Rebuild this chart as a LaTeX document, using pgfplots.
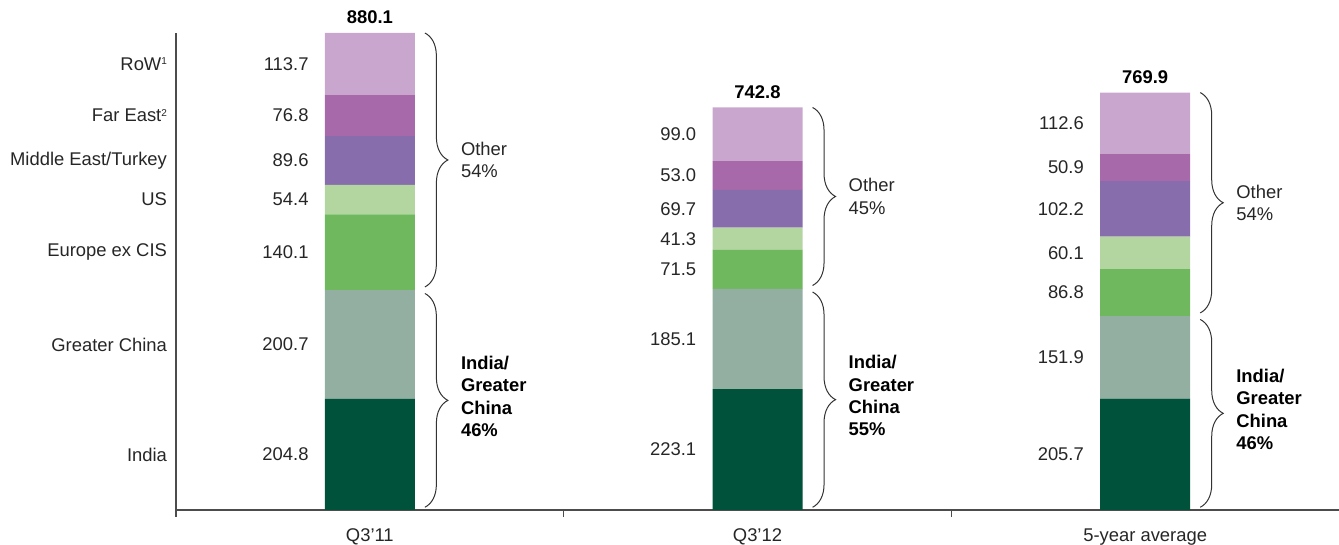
\documentclass[border=0pt]{standalone}
\usepackage{fontspec}
\setmainfont{Liberation Sans}
\usepackage{pgfplots}
\usepackage{pgfplotstable}
\pgfplotsset{compat=1.18}
\usetikzlibrary{decorations.pathreplacing}

\definecolor{cIndia}{HTML}{00523A}
\definecolor{cChina}{HTML}{93AFA2}
\definecolor{cEurope}{HTML}{6FB85D}
\definecolor{cUS}{HTML}{B3D6A1}
\definecolor{cMidEast}{HTML}{886DAC}
\definecolor{cFarEast}{HTML}{A869AA}
\definecolor{cRoW}{HTML}{C9A6CE}

\newcommand\basefont{\fontsize{9.2}{11.2}\selectfont}
\newcommand\fn[1]{\raisebox{2.6pt}{\fontsize{5}{5}\selectfont #1}}

% demand by region, one row per bar
\pgfplotstableread{
x India China Europe US MidEast FarEast RoW
0 204.8 200.7 140.1 54.4 89.6 76.8 113.7
1 223.1 185.1 71.5 41.3 69.7 53.0 99.0
2 205.7 151.9 86.8 60.1 102.2 50.9 112.6
}\demand

% value label: x, y (segment middle), text
\newcommand\vlab[3]{\node[anchor=east, text=black!85] at (axis cs:#1,#2) {#3};}
\newcommand\brc[3]{\draw[decorate, decoration={brace, amplitude=11.5pt}, line width=0.5pt, black!80] (axis cs:#1,#2) -- (axis cs:#1,#3);}

\begin{document}
\begin{tikzpicture}[font=\basefont]
\useasboundingbox (-88pt,-17.5pt) rectangle (581.5pt,255pt);
\begin{axis}[
    scale only axis,
    width=581.5pt, height=238.5pt,
    ybar stacked, bar width=45pt,
    xmin=-0.5, xmax=2.5, ymin=0, ymax=880.1,
    axis lines*=left,
    axis line style={draw=black!70, line width=0.6pt},
    ytick=\empty,
    xtick={0,1,2},
    xticklabels={Q3’11, Q3’12, 5-year average},
    major tick length=0pt,
    minor xtick={-0.5,0.5,1.5},
    minor tick length=3.5pt,
    tick align=outside,
    every minor tick/.append style={draw=black!70, line width=0.6pt},
    tick label style={font=\basefont, text=black!85},
    xticklabel style={yshift=-6pt},
    clip=false,
]
\addplot[fill=cIndia, draw=none] table[x=x, y=India] {\demand};
\addplot[fill=cChina, draw=none] table[x=x, y=China] {\demand};
\addplot[fill=cEurope, draw=none] table[x=x, y=Europe] {\demand};
\addplot[fill=cUS, draw=none] table[x=x, y=US] {\demand};
\addplot[fill=cMidEast, draw=none] table[x=x, y=MidEast] {\demand};
\addplot[fill=cFarEast, draw=none] table[x=x, y=FarEast] {\demand};
\addplot[fill=cRoW, draw=none] table[x=x, y=RoW] {\demand};

% region names
\node[anchor=east, xshift=-1pt, text=black!85] at (axis cs:-0.5,823.25) {RoW\fn{1}};
\node[anchor=east, xshift=-1pt, text=black!85] at (axis cs:-0.5,728.0) {Far East\fn{2}};
\node[anchor=east, xshift=-1pt, text=black!85] at (axis cs:-0.5,644.8) {Middle East/Turkey};
\node[anchor=east, xshift=-1pt, text=black!85] at (axis cs:-0.5,572.8) {US};
\node[anchor=east, xshift=-1pt, text=black!85] at (axis cs:-0.5,475.55) {Europe ex CIS};
\node[anchor=east, xshift=-1pt, text=black!85] at (axis cs:-0.5,305.15) {Greater China};
\node[anchor=east, xshift=-1pt, text=black!85] at (axis cs:-0.5,102.4) {India};

% Q3'11
\vlab{-0.14}{102.4}{204.8}
\vlab{-0.14}{305.15}{200.7}
\vlab{-0.14}{475.55}{140.1}
\vlab{-0.14}{572.8}{54.4}
\vlab{-0.14}{644.8}{89.6}
\vlab{-0.14}{728.0}{76.8}
\vlab{-0.14}{823.25}{113.7}
% Q3'12
\vlab{0.86}{111.55}{223.1}
\vlab{0.86}{315.65}{185.1}
\vlab{0.86}{443.95}{71.5}
\vlab{0.86}{500.35}{41.3}
\vlab{0.86}{555.85}{69.7}
\vlab{0.86}{617.2}{53.0}
\vlab{0.86}{693.2}{99.0}
% 5-year average
\vlab{1.86}{102.85}{205.7}
\vlab{1.86}{281.65}{151.9}
\vlab{1.86}{401.0}{86.8}
\vlab{1.86}{474.45}{60.1}
\vlab{1.86}{555.6}{102.2}
\vlab{1.86}{632.15}{50.9}
\vlab{1.86}{713.9}{112.6}

% totals
\node[anchor=south, yshift=1pt, font=\basefont\bfseries] at (axis cs:0,880.1) {880.1};
\node[anchor=south, yshift=1pt, font=\basefont\bfseries] at (axis cs:1,742.7) {742.8};
\node[anchor=south, yshift=1pt, font=\basefont\bfseries] at (axis cs:2,770.2) {769.9};

% braces
\brc{0.142}{880.1}{411.5}
\brc{0.142}{399.5}{5}
\brc{1.142}{742.7}{414.2}
\brc{1.142}{402.2}{5}
\brc{2.142}{770.2}{363.6}
\brc{2.142}{351.6}{5}

\node[anchor=west, align=left, text=black!85] at (axis cs:0.217,645.8) {Other\\54\%};
\node[anchor=west, align=left, yshift=2pt, font=\basefont\bfseries] at (axis cs:0.217,202.3) {India/\\Greater\\China\\46\%};
\node[anchor=west, align=left, text=black!85] at (axis cs:1.217,578.5) {Other\\45\%};
\node[anchor=west, align=left, yshift=2pt, font=\basefont\bfseries] at (axis cs:1.217,203.6) {India/\\Greater\\China\\55\%};
\node[anchor=west, align=left, text=black!85] at (axis cs:2.217,566.9) {Other\\54\%};
\node[anchor=west, align=left, yshift=2pt, font=\basefont\bfseries] at (axis cs:2.217,178.3) {India/\\Greater\\China\\46\%};
\end{axis}
\end{tikzpicture}
\end{document}
